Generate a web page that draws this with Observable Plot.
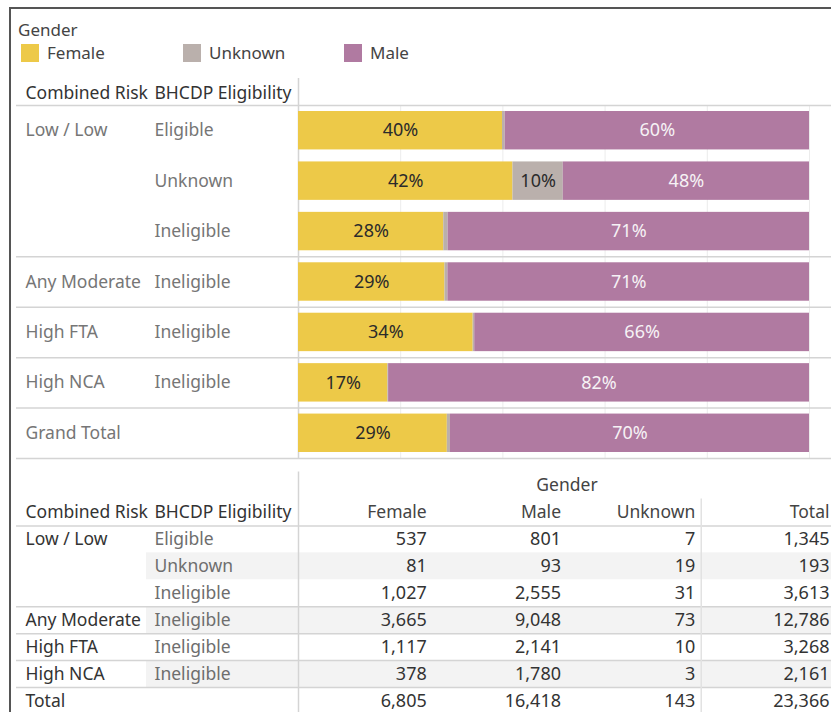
<!DOCTYPE html>
<html><head><meta charset="utf-8">
<script src="https://cdn.jsdelivr.net/npm/d3@7"></script>
<script src="https://cdn.jsdelivr.net/npm/@observablehq/plot@0.6"></script>
<style>
html,body{margin:0;padding:0;background:#fff;}
#root{position:relative;width:831px;height:712px;overflow:hidden;font-family:"Noto Sans",sans-serif;background:#fff;color:#333;}
#root svg{position:absolute;left:0;}
.bt{position:absolute;left:9px;top:7px;width:830px;height:2px;background:#555;z-index:5;}
.bl{position:absolute;left:9px;top:7px;width:2px;height:710px;background:#555;z-index:5;}
#legend{position:absolute;left:18px;top:18px;z-index:4;font-size:17px;color:#444;}
#legend .title{line-height:24px;}
#legend .items{position:relative;height:20px;margin-top:-1px;}
#legend .item{position:absolute;top:0;display:flex;align-items:center;white-space:nowrap;}
#legend .sw{width:18px;height:18px;margin-right:8px;}
</style>
</head><body>
<div id="root">
  <div id="legend"><div class="title">Gender</div><div class="items"></div></div>
</div>
<script>
// ---- data ----
const genders = ["Female", "Unknown", "Male"];
const genderColors = ["#edc948", "#bab0ac", "#b07aa1"];
const riskGroups = ["Low / Low", "Low / Low", "Low / Low", "Any Moderate", "High FTA", "High NCA"];
const eligibility = ["Eligible", "Unknown", "Ineligible", "Ineligible", "Ineligible", "Ineligible"];
const femaleCounts = [537, 81, 1027, 3665, 1117, 378];
const maleCounts = [801, 93, 2555, 9048, 2141, 1780];
const unknownCounts = [7, 19, 31, 73, 10, 3];
const tableColumns = ["Female", "Male", "Unknown", "Total"];
const chartTotalLabel = "Grand Total";
const tableTotalLabel = "Total";
const chartHeaders = ["Combined Risk", "BHCDP Eligibility"];
const percentTicks = [0, 0.2, 0.4, 0.6, 0.8, 1];

// ---- derived tables ----
const rowKeys = riskGroups.map((_, i) => "r" + i);
const allRows = [...rowKeys, "total"];
const countsBy = {Female: femaleCounts, Unknown: unknownCounts, Male: maleCounts};
const totalOf = arr => d3.sum(arr);
const valueFor = (g, row) => row === "total" ? totalOf(countsBy[g]) : countsBy[g][rowKeys.indexOf(row)];
const barData = [];
for (const row of allRows) for (const g of genders) barData.push({row, gender: g, count: valueFor(g, row)});
const rowTotal = Object.fromEntries(allRows.map(r => [r, d3.sum(genders, g => valueFor(g, r))]));
const riskLabel = (r, i) => r === "total" ? null : (i === 0 || riskGroups[i] !== riskGroups[i - 1]) ? riskGroups[i] : null;
const groupStarts = rowKeys.filter((r, i) => i === 0 || riskGroups[i] !== riskGroups[i - 1]).concat(["total"]);

// ---- legend ----
const items = document.querySelector("#legend .items");
const legendOffsets = [3, 165, 326];
genders.forEach((g, i) => {
  const it = document.createElement("div");
  it.className = "item";
  it.style.left = legendOffsets[i] + "px";
  it.innerHTML = `<div class="sw" style="background:${genderColors[i]}"></div><span>${g}</span>`;
  items.appendChild(it);
});

const root = document.getElementById("root");
const font = {fontFamily: "'Noto Sans', sans-serif", fontSize: "18px"};
const lab = "17.5px";

// ---- bar chart ----
const yTop = 105, yBottom = 458;
const step = (yBottom - yTop) / allRows.length;
const stackOpts = {x: "count", y: "row", z: "gender", offset: "normalize", order: genders};
const chart = Plot.plot({
  width: 831, height: 462,
  marginTop: 78, marginLeft: 16, marginRight: 0, marginBottom: 4,
  x: {domain: [0, 1], range: [298, 809], axis: null},
  y: {type: "band", domain: allRows, range: [yTop, yBottom], padding: 0, round: false, axis: null},
  color: {domain: genders, range: genderColors},
  style: {...font, background: "white"},
  marks: [
    Plot.ruleX(percentTicks.slice(1), {x: d => d, y1: () => allRows[0], y2: () => "total", stroke: "#ececec", strokeWidth: 1}),
    Plot.ruleX([0], {x: d => d, stroke: "#d4d4d4", strokeWidth: 1.5}),
    Plot.ruleY(groupStarts, {y: d => d, dy: -step / 2, stroke: "#d4d4d4", strokeWidth: 1.5}),
    Plot.ruleY(["total"], {y: d => d, dy: step / 2, stroke: "#d4d4d4", strokeWidth: 1.5}),
    Plot.barX(barData, Plot.stackX({...stackOpts, fill: "gender", insetTop: 6, insetBottom: 6})),
    Plot.text(barData, Plot.stackX({...stackOpts,
      text: d => d.count / rowTotal[d.row] < 0.05 ? null : Math.round(d.count / rowTotal[d.row] * 100) + "%",
      fill: d => d.gender === "Male" ? "#f6f2f5" : "#2b2b2b"})),
    Plot.text(allRows, {y: d => d, text: (d, i) => d === "total" ? chartTotalLabel : riskLabel(d, i), frameAnchor: "left", dx: 9, textAnchor: "start", fill: "#767676", fontSize: lab}),
    Plot.text(rowKeys, {y: d => d, text: (d, i) => eligibility[i], frameAnchor: "left", dx: 138, textAnchor: "start", fill: "#767676", fontSize: lab}),
    Plot.text([chartHeaders[0]], {text: d => d, frameAnchor: "top-left", lineAnchor: "middle", dx: 9, dy: 15, textAnchor: "start", fill: "#333", fontSize: lab}),
    Plot.text([chartHeaders[1]], {text: d => d, frameAnchor: "top-left", lineAnchor: "middle", dx: 138, dy: 15, textAnchor: "start", fill: "#333", fontSize: lab})
  ]
});
chart.style.top = "0px";
root.appendChild(chart);

// ---- table ----
const tableRows = ["hdrGender", "hdrCols", ...allRows];
const tTop = 9.5, tBottom = 252;
const tStep = (tBottom - tTop) / tableRows.length;
const colBand = (835 - 298) / tableColumns.length;
const cells = [];
for (const row of allRows) {
  for (const c of tableColumns) {
    const v = c === "Total" ? rowTotal[row] : valueFor(c, row);
    cells.push({row, col: c, value: v});
  }
}
const shaded = allRows.filter((r, i) => i % 2 === 1);
const ruleRows = [rowKeys[0], ...groupStarts.slice(1)];
const table = Plot.plot({
  width: 831, height: 250,
  marginTop: tTop, marginLeft: 16, marginRight: 0, marginBottom: 0,
  x: {type: "band", domain: tableColumns, range: [298, 835], padding: 0, round: false, axis: null},
  y: {type: "band", domain: tableRows, range: [tTop, tBottom], padding: 0, round: false, axis: null},
  style: {...font, background: "white"},
  marks: [
    Plot.cell(shaded, {y: d => d, fill: "#f3f3f3", insetLeft: 130}),
    Plot.ruleY(ruleRows, {y: d => d, dy: -tStep / 2, stroke: "#d4d4d4", strokeWidth: 1.5}),
    Plot.ruleX(["Female"], {x: d => d, dx: -colBand / 2, y1: () => "hdrGender", y2: () => "total", stroke: "#d4d4d4", strokeWidth: 1.5}),
    Plot.ruleX(["Total"], {x: d => d, dx: -colBand / 2, y1: () => "hdrCols", y2: () => "total", stroke: "#e2e2e2", strokeWidth: 1.5}),
    Plot.text(["Gender"], {x: () => "Unknown", y: () => "hdrGender", text: d => d, dx: -colBand / 2, fill: "#444", fontSize: lab}),
    Plot.text(tableColumns, {x: d => d, y: () => "hdrCols", text: d => d, dx: colBand / 2 - 6, textAnchor: "end", fill: "#444", fontSize: lab}),
    Plot.text([chartHeaders[0]], {y: () => "hdrCols", text: d => d, frameAnchor: "left", dx: 9, textAnchor: "start", fill: "#333", fontSize: lab}),
    Plot.text([chartHeaders[1]], {y: () => "hdrCols", text: d => d, frameAnchor: "left", dx: 138, textAnchor: "start", fill: "#333", fontSize: lab}),
    Plot.text(cells, {x: "col", y: "row", text: d => d3.format(",")(d.value), dx: colBand / 2 - 6, textAnchor: "end", fill: "#333"}),
    Plot.text(allRows, {y: d => d, text: (d, i) => d === "total" ? tableTotalLabel : riskLabel(d, i), frameAnchor: "left", dx: 9, textAnchor: "start", fill: "#333", fontSize: lab}),
    Plot.text(rowKeys, {y: d => d, text: (d, i) => eligibility[i], frameAnchor: "left", dx: 138, textAnchor: "start", fill: "#6e6e6e", fontSize: lab})
  ]
});
table.style.top = "462px";
root.appendChild(table);

const bt = document.createElement("div"); bt.className = "bt"; root.appendChild(bt);
const bl = document.createElement("div"); bl.className = "bl"; root.appendChild(bl);
</script>
</body></html>
